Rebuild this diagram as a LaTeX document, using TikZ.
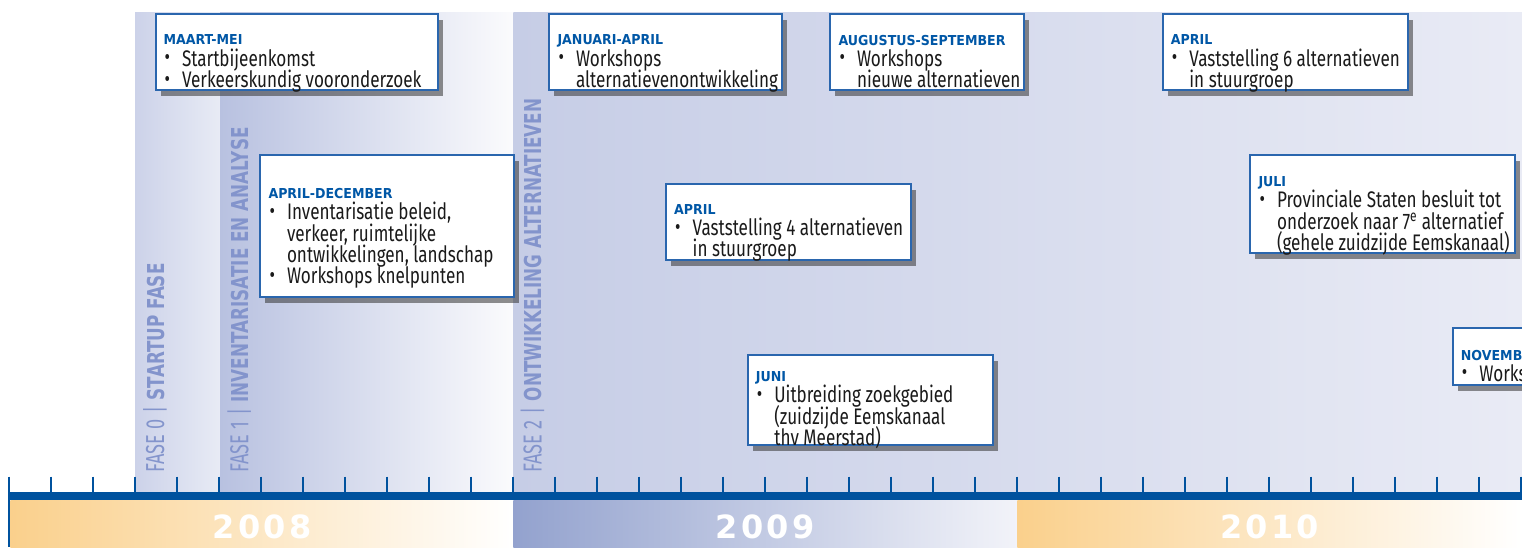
\documentclass[tikz,border=0pt]{standalone}
\usepackage{fontspec}
\usetikzlibrary{shadows}
\newfontfamily\bodyf{Fira Sans}[FakeStretch=0.76]
\newfontfamily\headf{DejaVu Sans}[FakeStretch=0.92]
\newfontfamily\phb{DejaVu Sans}[FakeStretch=0.72]
\newfontfamily\phl{Fira Sans}[FakeStretch=0.7]
\newfontfamily\yrf{DejaVu Sans}[LetterSpace=10]

\definecolor{tlblue}{HTML}{00529E}
\definecolor{bxblue}{HTML}{2A66AE}
\definecolor{hdblue}{HTML}{0057A6}
\definecolor{phtext}{HTML}{8394CC}
\definecolor{orng}{HTML}{FAD08C}
\definecolor{ybl}{HTML}{93A2CE}
\definecolor{ybr}{HTML}{F2F3F9}
\definecolor{bzl}{HTML}{CCD2E9}
\definecolor{bzr}{HTML}{E8EBF5}
\definecolor{bal}{HTML}{B8C1E0}
\definecolor{bar}{HTML}{FBFBFD}
\definecolor{bbl}{HTML}{C6CDE6}
\definecolor{bbr}{HTML}{E9EBF5}
\definecolor{txt}{HTML}{1A1A1A}

\newcommand{\bl}{\raisebox{1.5pt}{\fontsize{22}{22}\selectfont\textbullet}}
\newcommand{\bitem}{\par\noindent\hangindent=18.5pt\hangafter=1\makebox[18.5pt][l]{\kern1pt\bl}}
\newcommand{\hd}[1]{{\headf\bfseries\fontsize{13.7}{13.7}\selectfont\color{hdblue}#1}}
\newcommand{\evbody}[1]{\parbox[t]{420pt}{\bodyf\fontsize{22.5}{21.3}\selectfont\lineskiplimit=-30pt\lineskip=0pt\parindent=0pt\color{txt}#1}}

\tikzset{
  evbox/.style={draw=bxblue, line width=2pt, fill=white, inner sep=0pt, anchor=north west,
    drop shadow={shadow xshift=5pt, shadow yshift=-6pt, opacity=0.55, fill=black!80}},
  evtxt/.style={anchor=base west, inner sep=0pt},
  phase/.style={rotate=90, anchor=base west, inner sep=0pt, text=phtext},
  tick/.style={draw=tlblue, line width=2pt},
  yeartxt/.style={text=white, inner sep=0pt, font=\yrf\bfseries\fontsize{32}{32}\selectfont}
}

\begin{document}
\begin{tikzpicture}[x=1pt,y=-1pt]
\useasboundingbox (0,0) rectangle (1522,547);
\clip (0,0) rectangle (1522,547);
\fill[white] (0,0) rectangle (1522,547);

% phase bands
\shade[left color=bzl, right color=bzr] (135,12) rectangle (220,492.5);
\shade[left color=bal, right color=bar] (220,12) rectangle (513.3,492.5);
\shade[left color=bbl, right color=bbr] (513.3,12) rectangle (1522,492.5);

% phase labels
\node[phase] (p0) at (164,472.7) {{\phl\fontsize{26}{26}\selectfont FASE 0\hspace{6pt}|\hspace{6pt}}{\phb\bfseries\fontsize{23.3}{23.3}\selectfont STARTUP FASE}};
\node[phase] (p1) at (248.3,472.7) {{\phl\fontsize{26}{26}\selectfont FASE 1\hspace{6pt}|\hspace{6pt}}{\phb\bfseries\fontsize{23.3}{23.3}\selectfont INVENTARISATIE EN ANALYSE}};
\node[phase] (p2) at (541.7,472.7) {{\phl\fontsize{26}{26}\selectfont FASE 2\hspace{6pt}|\hspace{6pt}}{\phb\bfseries\fontsize{23.3}{23.3}\selectfont ONTWIKKELING ALTERNATIEVEN}};

% year bars
\shade[left color=orng, right color=white] (10.3,500) rectangle (513.3,547);
\shade[left color=ybl, right color=ybr] (513.3,500) rectangle (1017.3,547);
\shade[left color=orng, right color=white] (1017.3,500) rectangle (1522,547);
\node[yeartxt] (y08) at (262,526.7) {2008};
\node[yeartxt] (y09) at (765.3,526.7) {2009};
\node[yeartxt] (y10) at (1269.5,526.7) {2010};

% timeline
\fill[tlblue] (9.3,492.3) rectangle (1522,500);
\foreach \k in {0,...,36}{
  \draw[tick] (9.3+42*\k,476.7) -- (9.3+42*\k,493);
}
\draw[tick] (9.3,493) -- (9.3,547);

% event boxes
\node[evbox, minimum width=282.3pt, minimum height=76.6pt] (b1) at (155,12.7) {};
\node[evtxt] (t1) at (163.3,35) {\evbody{\hd{MAART-MEI}\bitem Startbijeenkomst\bitem Verkeerskundig vooronderzoek}};

\node[evbox, minimum width=254.3pt, minimum height=141.7pt] (b2) at (259,154) {};
\node[evtxt] (t2) at (268.3,188.3) {\evbody{\hd{APRIL-DECEMBER}\bitem Inventarisatie beleid,\newline verkeer, ruimtelijke\newline ontwikkelingen, landschap\bitem Workshops knelpunten}};

\node[evbox, minimum width=232.4pt, minimum height=76.3pt] (b3) at (548.3,12.7) {};
\node[evtxt] (t3) at (557.3,35) {\evbody{\hd{JANUARI-APRIL}\bitem Workshops\newline alternatievenontwikkeling}};

\node[evbox, minimum width=194pt, minimum height=76.3pt] (b4) at (829.3,12.7) {};
\node[evtxt] (t4) at (838.3,35) {\evbody{\hd{AUGUSTUS-SEPTEMBER}\bitem Workshops\newline nieuwe alternatieven}};

\node[evbox, minimum width=245pt, minimum height=75.7pt] (b5) at (665,183.3) {};
\node[evtxt] (t5) at (674,204.3) {\evbody{\hd{APRIL}\bitem Vaststelling 4 alternatieven\newline in stuurgroep}};

\node[evbox, minimum width=245.6pt, minimum height=90.6pt] (b6) at (746.7,353.7) {};
\node[evtxt] (t6) at (755.7,371.7) {\evbody{\hd{JUNI}\bitem Uitbreiding zoekgebied\newline (zuidzijde Eemskanaal\newline thv Meerstad)}};

\node[evbox, minimum width=245pt, minimum height=76.3pt] (b7) at (1161.7,12.7) {};
\node[evtxt] (t7) at (1170.7,35) {\evbody{\hd{APRIL}\bitem Vaststelling 6 alternatieven\newline in stuurgroep}};

\node[evbox, minimum width=265.3pt, minimum height=97.4pt] (b8) at (1249,154.3) {};
\node[evtxt] (t8) at (1258.3,176.7) {\evbody{\hd{JULI}\bitem Provinciale Staten besluit tot\newline onderzoek naar 7\textsuperscript{e} alternatief\newline (gehele zuidzijde Eemskanaal)}};

\node[evbox, minimum width=200pt, minimum height=57.6pt] (b9) at (1451.7,326.7) {};
\node[evtxt] (t9) at (1460.7,350) {\evbody{\hd{NOVEMBER}\bitem Workshops}};
\end{tikzpicture}
\end{document}
